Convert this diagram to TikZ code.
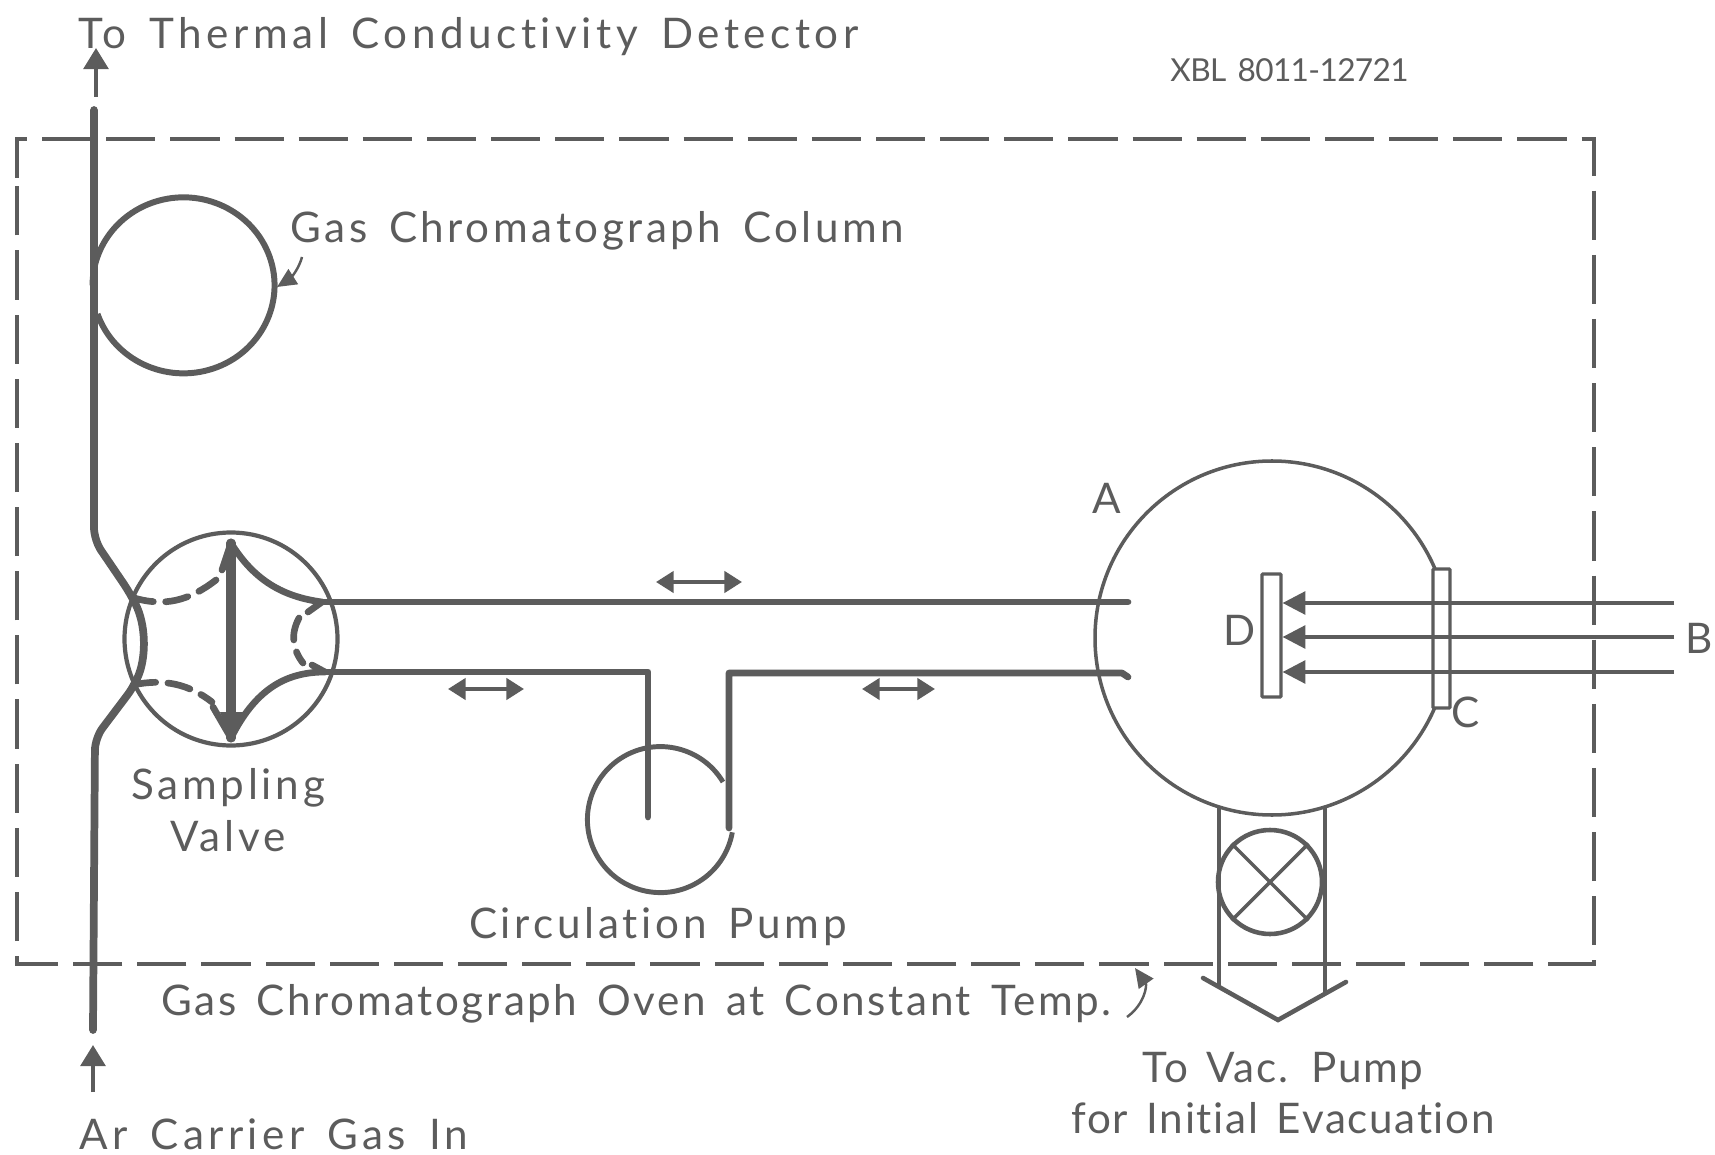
\documentclass[tikz,border=0pt]{standalone}
\usepackage{fontspec}
\setmainfont{Lato}[Ligatures=NoCommon,WordSpace=1.5]
\usetikzlibrary{arrows.meta}
\definecolor{ink}{HTML}{5C5C5C}
\newcommand{\flow}[3]{\draw[flowarrow] (#1, #3) -- (#2, #3);}
\tikzset{
  pipe/.style={draw=ink, line width=4.4pt, line cap=round, line join=round},
  thinwall/.style={draw=ink, line width=2pt},
  column/.style={draw=ink, line width=3.4pt},
  oven/.style={draw=ink, line width=1.9pt, dash pattern=on 28pt off 8.5pt},
  port/.style={draw=ink, line width=3.8pt, line cap=round, dash pattern=on 13pt off 7pt},
  flowarrow/.style={draw=ink, line width=2.2pt, {Triangle[length=10pt,width=12pt]}-{Triangle[length=10pt,width=12pt]}},
  beam/.style={draw=ink, line width=2pt, -{Triangle[length=13pt,width=13pt]}},
  flag/.style={draw=ink, line width=2.4pt, -{Triangle[length=12pt,width=14pt]}},
  leader/.style={draw=ink, line width=1.4pt, -{Triangle[length=11pt,width=10pt]}},
  plate/.style={draw=ink, fill=white, line width=1.8pt, rectangle, rounded corners=.5pt, inner sep=0pt},
  lettering/.style={text=ink, inner sep=0pt, align=center, font=\fontsize{24}{29.5}\selectfont\addfontfeature{LetterSpace=#1}},
  lettering/.default=5,
  small/.style={text=ink, inner sep=0pt, font=\fontsize{18}{22}\selectfont\addfontfeature{LetterSpace=-2}},
}

\begin{document}
\begin{tikzpicture}[x=.2mm, y=-.2mm]
  \useasboundingbox (0, 0) rectangle (1715, 1155);
  % oven
  \draw[oven] (17, 178) -- (17, 139) -- (1594, 139) -- (1594, 964) -- (17, 964) -- cycle;

  % labels
  \node[lettering=10.8, anchor=west] (detector) at (78, 37) {To Thermal Conductivity Detector};
  \node[small, anchor=west] (xbl) at (1170, 70) {XBL 8011-12721};
  \node[lettering=8.5, anchor=west] (columnlabel) at (290, 231) {Gas Chromatograph Column};
  \node[lettering=9] (samplinglabel) at (228, 810) {Sampling\\Valve};
  \node[lettering=9] (pumplabel) at (658, 927) {Circulation Pump};
  \node[lettering=6.2, anchor=west] (ovenlabel) at (161, 1004) {Gas Chromatograph Oven at Constant Temp.};
  \node[lettering=4] (vaclabel) at (1283, 1093) {To Vac. Pump\\for Initial Evacuation};
  \node[lettering=10.5, anchor=west] (arlabel) at (79, 1134) {Ar Carrier Gas In};
  \node[lettering] (A) at (1107, 498) {A};
  \node[lettering] (B) at (1699, 638) {B};
  \node[lettering] (C) at (1466, 712) {C};
  \node[lettering] (D) at (1240, 630) {D};

  % main tube with column and valve
  \node[draw=ink, line width=2.4pt, circle, minimum size=42.6mm, inner sep=0pt] (valve) at (231, 639) {};
  \node[thinwall, circle, minimum size=70.8mm, inner sep=0pt] (chamber) at (1272, 638) {};
  \node[thinwall, line width=2.6pt, circle, minimum size=20.8mm, inner sep=0pt] (shutoff) at (1270, 882) {};
  \draw[thinwall] (shutoff.45) -- (shutoff.225);
  \draw[thinwall] (shutoff.135) -- (shutoff.315);

  \draw[pipe, rounded corners=7pt] (94, 110) -- (94, 540) -- (130, 593) .. controls (146, 625) and (146, 655) .. (135, 685) -- (95, 738) -- (93, 1030);
  \draw[column] (97.5, 314) arc[start angle=199, end angle=540, x radius=18.2mm, y radius=17.6mm];
  \draw[thinwall, line width=2.8pt] (723, 782) arc[start angle=31, end angle=350, radius=14.6mm];

  % valve inside
  \coordinate (valvetop) at (231, 543);
  \coordinate (valvebottom) at (231, 738);
  \draw[pipe, line width=5.2pt] (valvetop) -- (valvebottom);
  \fill[ink] (valvetop) -- (222, 570) -- (231, 570) -- cycle;
  \fill[ink] (valvebottom) -- (220, 712) -- (244, 712) -- cycle;
  \draw[pipe, line width=3.8pt] (222, 570) -- (valvetop) .. controls (255, 582) and (285, 597) .. (322, 602) -- (308, 612);
  \draw[pipe, line width=3.8pt] (213, 707) -- (valvebottom) .. controls (255, 690) and (285, 672) .. (325, 672) -- (312, 665);
  \draw[port] (131, 597) .. controls (165, 608) and (190, 600) .. (216, 580);
  \draw[port] (133, 685) .. controls (165, 678) and (190, 685) .. (212, 702);
  \draw[port] (299, 618) .. controls (290, 635) and (293, 650) .. (303, 663);

  % tubes
  \draw[pipe, line width=3.8pt] (322, 602) -- (1128, 602);
  \draw[pipe, line width=3.8pt] (325, 672) -- (648, 672) -- (648, 817);
  \draw[pipe, line width=3.8pt] (729, 828) -- (729, 673) -- (1122, 673) -- (1128, 677);

  % flow directions
  \flow{656}{742}{582}
  \flow{448}{524}{689}
  \flow{862}{935}{689}
  \draw[flag] (96, 97) -- (96, 48);
  \draw[flag] (93, 1092) -- (93, 1045);

  % source
  \node[plate, minimum width=3.8mm, minimum height=24.6mm] (detplate) at (1271.5, 635.5) {};
  \node[plate, minimum width=3.4mm, minimum height=27.8mm] (slit) at (1441.5, 638.5) {};
  \coordinate (beamtop) at (1674, 603);
  \coordinate (beammid) at (1674, 637);
  \coordinate (beamlow) at (1674, 672);
  \draw[beam] (beamtop) -- (detplate.east |- beamtop);
  \draw[beam] (beammid) -- (detplate.east |- beammid);
  \draw[beam] (beamlow) -- (detplate.east |- beamlow);

  % pump out
  \coordinate (exitleft) at (1219, 808);
  \coordinate (exitright) at (1325, 808);
  \coordinate (exittip) at (1278, 1020);
  \draw[thinwall, line width=2.6pt] (exitleft) -- (1219, 987);
  \draw[thinwall, line width=2.6pt] (exitright) -- (1325, 992);
  \draw[thinwall, line width=2.6pt, line cap=round] (1203, 978) -- (exittip) -- (1346, 982);

  % leaders
  \coordinate (columntail) at (302, 257);
  \coordinate (columntip) at (277, 287);
  \coordinate (oventail) at (1127, 1017);
  \coordinate (oventip) at (1135, 968);
  \draw[leader] (columntail) .. controls (298, 272) and (288, 280) .. (columntip);
  \draw[leader] (oventail) .. controls (1145, 1004) and (1147, 985) .. (oventip);
\end{tikzpicture}
\end{document}
